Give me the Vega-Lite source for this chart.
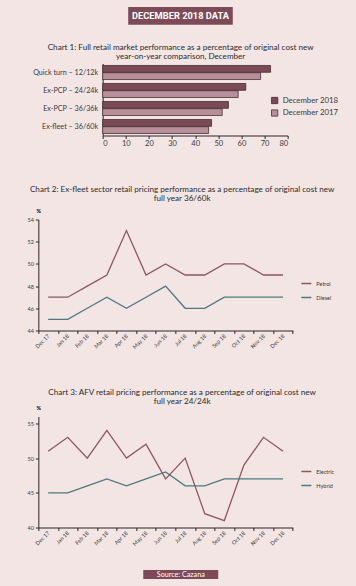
{
  "$schema": "https://vega.github.io/schema/vega-lite/v6.json",
  "background": "#f2e5e4",
  "padding": {"left": 20, "right": 10, "top": 7, "bottom": 9},
  "config": {
    "font": "Lato",
    "view": {"stroke": null},
    "axis": {"labelFont": "Lato", "titleFont": "Lato", "domainColor": "#2e2528", "tickColor": "#2e2528", "labelColor": "#3a3a3a", "grid": false, "domainWidth": 1},
    "title": {"font": "Lato", "fontWeight": "normal", "color": "#2b2b2b", "fontSize": 8.1, "lineHeight": 8.8},
    "legend": {"labelFont": "Lato", "labelColor": "#3a3a3a", "padding": 0}
  },
  "datasets": {
    "bars": [
      {"segment": "Quick turn – 12/12k", "year": "December 2018", "value": 72.6},
      {"segment": "Quick turn – 12/12k", "year": "December 2017", "value": 68.3},
      {"segment": "Ex-PCP – 24/24k", "year": "December 2018", "value": 61.9},
      {"segment": "Ex-PCP – 24/24k", "year": "December 2017", "value": 58.6},
      {"segment": "Ex-PCP – 36/36k", "year": "December 2018", "value": 54.4},
      {"segment": "Ex-PCP – 36/36k", "year": "December 2017", "value": 51.7},
      {"segment": "Ex-fleet – 36/60k", "year": "December 2018", "value": 47.1},
      {"segment": "Ex-fleet – 36/60k", "year": "December 2017", "value": 45.8}
    ],
    "fuel": [
      {"month": "Dec 17", "series": "Petrol", "value": 47},
      {"month": "Jan 18", "series": "Petrol", "value": 47},
      {"month": "Feb 18", "series": "Petrol", "value": 48},
      {"month": "Mar 18", "series": "Petrol", "value": 49},
      {"month": "Apr 18", "series": "Petrol", "value": 53},
      {"month": "May 18", "series": "Petrol", "value": 49},
      {"month": "Jun 18", "series": "Petrol", "value": 50},
      {"month": "Jul 18", "series": "Petrol", "value": 49},
      {"month": "Aug 18", "series": "Petrol", "value": 49},
      {"month": "Sep 18", "series": "Petrol", "value": 50},
      {"month": "Oct 18", "series": "Petrol", "value": 50},
      {"month": "Nov 18", "series": "Petrol", "value": 49},
      {"month": "Dec 18", "series": "Petrol", "value": 49},
      {"month": "Dec 17", "series": "Diesel", "value": 45},
      {"month": "Jan 18", "series": "Diesel", "value": 45},
      {"month": "Feb 18", "series": "Diesel", "value": 46},
      {"month": "Mar 18", "series": "Diesel", "value": 47},
      {"month": "Apr 18", "series": "Diesel", "value": 46},
      {"month": "May 18", "series": "Diesel", "value": 47},
      {"month": "Jun 18", "series": "Diesel", "value": 48},
      {"month": "Jul 18", "series": "Diesel", "value": 46},
      {"month": "Aug 18", "series": "Diesel", "value": 46},
      {"month": "Sep 18", "series": "Diesel", "value": 47},
      {"month": "Oct 18", "series": "Diesel", "value": 47},
      {"month": "Nov 18", "series": "Diesel", "value": 47},
      {"month": "Dec 18", "series": "Diesel", "value": 47}
    ],
    "afv": [
      {"month": "Dec 17", "series": "Electric", "value": 51},
      {"month": "Jan 18", "series": "Electric", "value": 53},
      {"month": "Feb 18", "series": "Electric", "value": 50},
      {"month": "Mar 18", "series": "Electric", "value": 54},
      {"month": "Apr 18", "series": "Electric", "value": 50},
      {"month": "May 18", "series": "Electric", "value": 52},
      {"month": "Jun 18", "series": "Electric", "value": 47},
      {"month": "Jul 18", "series": "Electric", "value": 50},
      {"month": "Aug 18", "series": "Electric", "value": 42},
      {"month": "Sep 18", "series": "Electric", "value": 41},
      {"month": "Oct 18", "series": "Electric", "value": 49},
      {"month": "Nov 18", "series": "Electric", "value": 53},
      {"month": "Dec 18", "series": "Electric", "value": 51},
      {"month": "Dec 17", "series": "Hybrid", "value": 45},
      {"month": "Jan 18", "series": "Hybrid", "value": 45},
      {"month": "Feb 18", "series": "Hybrid", "value": 46},
      {"month": "Mar 18", "series": "Hybrid", "value": 47},
      {"month": "Apr 18", "series": "Hybrid", "value": 46},
      {"month": "May 18", "series": "Hybrid", "value": 47},
      {"month": "Jun 18", "series": "Hybrid", "value": 48},
      {"month": "Jul 18", "series": "Hybrid", "value": 46},
      {"month": "Aug 18", "series": "Hybrid", "value": 46},
      {"month": "Sep 18", "series": "Hybrid", "value": 47},
      {"month": "Oct 18", "series": "Hybrid", "value": 47},
      {"month": "Nov 18", "series": "Hybrid", "value": 47},
      {"month": "Dec 18", "series": "Hybrid", "value": 47}
    ],
    "header": [{"t": "DECEMBER 2018 DATA"}],
    "source": [{"t": "Source: Cazana"}]
  },
  "spacing": 18.5,
  "center": true,
  "resolve": {"scale": {"color": "independent"}},
  "vconcat": [
    {
      "width": 104.6,
      "height": 17.7,
      "view": {"fill": "#7d4b57", "stroke": null},
      "data": {"name": "header"},
      "mark": {"type": "text", "font": "Roboto", "fontWeight": "bold", "fontSize": 9.3, "color": "#ffffff"},
      "encoding": {
        "text": {"field": "t"},
        "x": {"field": "t", "type": "nominal", "axis": null},
        "y": {"field": "t", "type": "nominal", "axis": {"orient": "right", "title": null, "labels": false, "ticks": false, "domain": false, "minExtent": 84, "maxExtent": 84}}
      }
    },
    {
      "spacing": 22.5,
      "center": true,
      "resolve": {"scale": {"color": "independent"}},
      "vconcat": [
        {
          "spacing": 38,
          "center": true,
          "resolve": {"scale": {"color": "independent"}},
          "vconcat": [
            {
              "width": 185,
              "height": 72,
              "title": {"text": ["Chart 1: Full retail market performance as a percentage of original cost new", "year-on-year comparison, December"], "dx": -14.5, "offset": 2.3},
              "data": {"name": "bars"},
              "resolve": {"axis": {"y": "independent"}},
              "layer": [
                {
                  "mark": {"type": "bar", "stroke": "#3a1e26", "strokeWidth": 0.7},
                  "encoding": {
                    "y": {"field": "segment", "type": "nominal", "sort": null, "scale": {"paddingInner": 0.22, "paddingOuter": 0.11}, "axis": {"title": null, "ticks": false, "labelFontSize": 7.2, "labelPadding": 5, "minExtent": 82, "maxExtent": 82}},
                    "x": {"field": "value", "type": "quantitative", "scale": {"domain": [0, 80]}, "axis": {"title": null, "values": [0, 10, 20, 30, 40, 50, 60, 70, 80], "labelFontSize": 7.5, "tickSize": 3, "labelPadding": 1}},
                    "yOffset": {"field": "year", "sort": ["December 2018", "December 2017"], "scale": {"paddingInner": 0.05}},
                    "color": {"field": "year", "type": "nominal", "scale": {"domain": ["December 2018", "December 2017"], "range": ["#7b4a57", "#b68f99"]}, "legend": {"title": null, "orient": "none", "legendX": 168, "legendY": 33, "symbolType": "square", "symbolSize": 40, "symbolStrokeColor": "#3a1e26", "symbolStrokeWidth": 0.7, "labelFontSize": 7.8, "rowPadding": 2.5}}
                  }
                },
                {
                  "mark": {"type": "point", "opacity": 0},
                  "encoding": {
                    "y": {"field": "segment", "type": "nominal", "sort": null, "axis": {"orient": "right", "title": null, "labels": false, "ticks": false, "domain": false, "minExtent": 55, "maxExtent": 55}}
                  }
                }
              ]
            },
            {
              "width": 254.5,
              "height": 111,
              "title": {"text": ["Chart 2: Ex-fleet sector retail pricing performance as a percentage of original cost new", "full year 36/60k"], "dx": 16.5, "offset": 5.3},
              "data": {"name": "fuel"},
              "resolve": {"axis": {"y": "independent"}},
              "layer": [
                {
                  "mark": {"type": "line", "strokeWidth": 1.3},
                  "encoding": {
                    "x": {"field": "month", "type": "nominal", "sort": null, "bandPosition": 0.5, "scale": {"type": "band", "paddingInner": 0, "paddingOuter": 0}, "axis": {"title": null, "labelAngle": -45, "labelAlign": "right", "labelBaseline": "middle", "labelFontSize": 5.5, "tickBand": "extent", "tickSize": 3, "labelPadding": 1}},
                    "y": {"field": "value", "type": "quantitative", "scale": {"domain": [44, 54]}, "axis": {"title": "%", "titleAngle": 0, "titleX": 0, "titleY": -6, "titleAlign": "center", "titleBaseline": "bottom", "titleFontSize": 5.5, "titleFontWeight": "bold", "values": [44, 46, 48, 50, 52, 54], "labelFontSize": 5.5, "tickSize": 3, "labelPadding": 2, "minExtent": 17.7, "maxExtent": 17.7}},
                    "color": {"field": "series", "type": "nominal", "sort": null, "scale": {"domain": ["Petrol", "Diesel"], "range": ["#8b5862", "#4e7880"]}, "legend": {"title": null, "orient": "none", "legendX": 262, "legendY": 58, "symbolType": "stroke", "symbolSize": 100, "symbolStrokeWidth": 1.5, "labelFontSize": 5.5, "rowPadding": 4}}
                  }
                },
                {
                  "mark": {"type": "point", "opacity": 0},
                  "encoding": {
                    "y": {"field": "value", "type": "quantitative", "axis": {"orient": "right", "title": null, "labels": false, "ticks": false, "domain": false, "minExtent": 114.1, "maxExtent": 114.1}}
                  }
                }
              ]
            },
            {
              "width": 254.5,
              "height": 111,
              "title": {"text": ["Chart 3: AFV retail pricing performance as a percentage of original cost new", "full year 24/24k"], "dx": 16.5, "offset": -0.6, "lineHeight": 8.6},
              "data": {"name": "afv"},
              "resolve": {"axis": {"y": "independent"}},
              "layer": [
                {
                  "mark": {"type": "line", "strokeWidth": 1.3},
                  "encoding": {
                    "x": {"field": "month", "type": "nominal", "sort": null, "bandPosition": 0.5, "scale": {"type": "band", "paddingInner": 0, "paddingOuter": 0}, "axis": {"title": null, "labelAngle": -45, "labelAlign": "right", "labelBaseline": "middle", "labelFontSize": 5.5, "tickBand": "extent", "tickSize": 3, "labelPadding": 1}},
                    "y": {"field": "value", "type": "quantitative", "scale": {"domain": [40, 55]}, "axis": {"title": "%", "titleAngle": 0, "titleX": 0, "titleY": -6, "titleAlign": "center", "titleBaseline": "bottom", "titleFontSize": 5.5, "titleFontWeight": "bold", "values": [40, 45, 50, 55], "labelFontSize": 5.5, "tickSize": 3, "labelPadding": 2, "minExtent": 17.7, "maxExtent": 17.7}},
                    "color": {"field": "series", "type": "nominal", "sort": null, "scale": {"domain": ["Electric", "Hybrid"], "range": ["#8b5862", "#4e7880"]}, "legend": {"title": null, "orient": "none", "legendX": 262, "legendY": 49, "symbolType": "stroke", "symbolSize": 100, "symbolStrokeWidth": 1.5, "labelFontSize": 5.5, "rowPadding": 4}}
                  }
                },
                {
                  "mark": {"type": "point", "opacity": 0},
                  "encoding": {
                    "y": {"field": "value", "type": "quantitative", "axis": {"orient": "right", "title": null, "labels": false, "ticks": false, "domain": false, "minExtent": 114.1, "maxExtent": 114.1}}
                  }
                }
              ]
            }
          ]
        },
        {
          "width": 75,
          "height": 9,
          "view": {"fill": "#7d4b57", "stroke": null},
          "data": {"name": "source"},
          "mark": {"type": "text", "font": "Lato", "fontSize": 7.2, "color": "#ffffff"},
          "encoding": {
            "text": {"field": "t"},
            "x": {"field": "t", "type": "nominal", "axis": null},
            "y": {"field": "t", "type": "nominal", "axis": {"orient": "right", "title": null, "labels": false, "ticks": false, "domain": false, "minExtent": 83.6, "maxExtent": 83.6}}
          }
        }
      ]
    }
  ]
}
